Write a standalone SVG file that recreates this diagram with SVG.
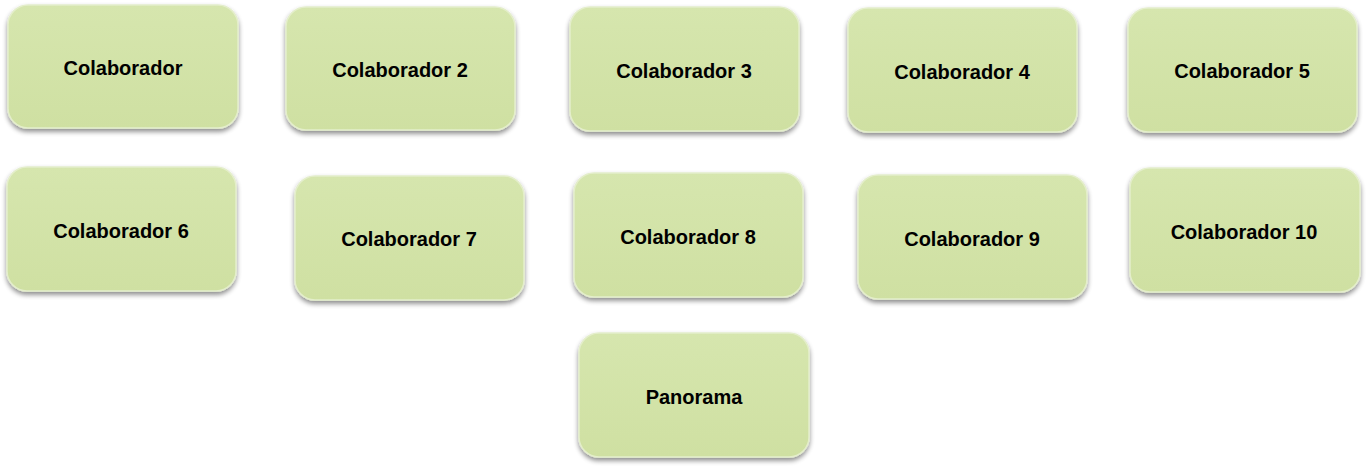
<svg xmlns="http://www.w3.org/2000/svg" width="1366" height="469" viewBox="0 0 1366 469">
<defs>
<linearGradient id="g" x1="0" y1="0" x2="0" y2="1">
<stop offset="0" stop-color="#d6e6ae"/>
<stop offset="1" stop-color="#cfe0a2"/>
</linearGradient>
<filter id="sh" x="-10%" y="-10%" width="120%" height="130%">
<feGaussianBlur in="SourceAlpha" stdDeviation="2.5"/>
<feOffset dx="0" dy="3" result="b"/>
<feComponentTransfer><feFuncA type="linear" slope="0.45"/></feComponentTransfer>
<feMerge><feMergeNode/><feMergeNode in="SourceGraphic"/></feMerge>
</filter>
</defs>
<style>
.box{fill:url(#g);stroke:#e4eecb;stroke-width:1.5;filter:url(#sh)}
.lbl{font-family:"Liberation Sans",Arial,sans-serif;font-weight:bold;font-size:20px;fill:#000;text-anchor:middle}
</style>
<rect width="1366" height="469" fill="#ffffff"/>
<g id="connectors"/>
<g id="n1"><rect class="box" x="8" y="5" width="230" height="123" rx="20"/><text class="lbl" x="123" y="75">Colaborador</text></g>
<g id="n2"><rect class="box" x="286" y="7" width="229" height="123" rx="20"/><text class="lbl" x="400" y="77">Colaborador 2</text></g>
<g id="n3"><rect class="box" x="570" y="7" width="229" height="124" rx="20"/><text class="lbl" x="684" y="78">Colaborador 3</text></g>
<g id="n4"><rect class="box" x="848" y="8" width="229" height="124" rx="20"/><text class="lbl" x="962" y="79">Colaborador 4</text></g>
<g id="n5"><rect class="box" x="1128" y="8" width="229" height="124" rx="20"/><text class="lbl" x="1242" y="78">Colaborador 5</text></g>
<g id="n6"><rect class="box" x="7" y="167" width="229" height="124" rx="20"/><text class="lbl" x="121" y="238">Colaborador 6</text></g>
<g id="n7"><rect class="box" x="295" y="176" width="229" height="124" rx="20"/><text class="lbl" x="409" y="246">Colaborador 7</text></g>
<g id="n8"><rect class="box" x="574" y="173" width="229" height="124" rx="20"/><text class="lbl" x="688" y="244">Colaborador 8</text></g>
<g id="n9"><rect class="box" x="858" y="175" width="229" height="124" rx="20"/><text class="lbl" x="972" y="246">Colaborador 9</text></g>
<g id="n10"><rect class="box" x="1130" y="168" width="230" height="124" rx="20"/><text class="lbl" x="1244" y="239">Colaborador 10</text></g>
<g id="n11"><rect class="box" x="579" y="333" width="230" height="124" rx="20"/><text class="lbl" x="694" y="404">Panorama</text></g>
</svg>
